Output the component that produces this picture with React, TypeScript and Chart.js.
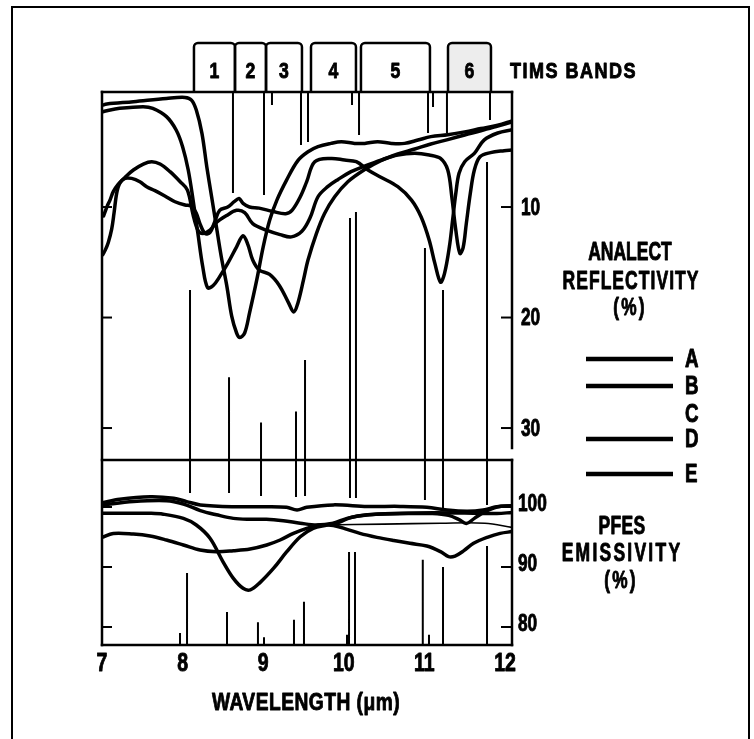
import React, { useEffect, useRef } from "react";
import { Chart, registerables } from "chart.js";

Chart.register(...registerables);

const FONT = "'Liberation Sans', Arimo, Arial, sans-serif";

type Pt = [number, number];

// axis ticks
const waveTicks = [7, 8, 9, 10, 11, 12];
const reflTicks = [10, 20, 30];
const emisTicks = [80, 90, 100];

// TIMS spectral bands (µm)
const bandNames = ["1", "2", "3", "4", "5", "6"];
const bandStart = [8.141, 8.65, 9.035, 9.593, 10.213, 11.293];
const bandEnd = [8.65, 9.035, 9.481, 10.151, 11.069, 11.826];

const legendKeys = ["A", "B", "C", "D", "E"];
const legendHasLine = [true, true, false, true, true];

// ANALECT reflectivity (%) against wavelength (µm)
const reflA: Pt[] = [
  [7.0, 0.8], [7.06, 0.68], [7.39, 0.47], [7.8, 0.17], [8.03, 0.08], [8.11, 0.32], [8.17, 1.22],
  [8.24, 3.33], [8.3, 6.35], [8.36, 9.07], [8.42, 11.8], [8.48, 14.5], [8.55, 17.2], [8.61, 19.9],
  [8.67, 21.4], [8.71, 21.8], [8.77, 21.4], [8.83, 19.6], [8.92, 16.6], [9.0, 13.6], [9.08, 11.2],
  [9.17, 9.37], [9.29, 7.56], [9.43, 5.8], [9.556, 5.0], [9.68, 4.54], [9.84, 4.24], [9.97, 4.09],
  [10.135, 4.24], [10.26, 4.24], [10.42, 4.09], [10.59, 4.24], [10.755, 4.24], [10.92, 3.94],
  [11.08, 3.63], [11.29, 3.45], [11.5, 3.2], [11.7, 2.9], [11.91, 2.6], [12.087, 2.2],
];
const reflB: Pt[] = [
  [7.0, 1.4], [7.06, 1.28], [7.22, 1.07], [7.51, 0.92], [7.63, 1.07], [7.8, 1.82], [7.92, 3.03],
  [8.0, 4.54], [8.07, 6.65], [8.13, 9.37], [8.19, 12.4], [8.25, 15.4], [8.31, 17.3], [8.38, 17.1],
  [8.46, 16.3], [8.56, 15.1], [8.67, 13.6], [8.75, 12.6], [8.81, 13.4], [8.87, 14.8], [8.95, 15.7],
  [9.08, 16.1], [9.2, 17.1], [9.31, 18.6], [9.38, 19.5], [9.43, 18.7], [9.5, 16.6], [9.556, 14.8],
  [9.66, 12.4], [9.76, 10.6], [9.887, 9.07], [10.05, 7.71], [10.26, 6.6], [10.46, 5.8], [10.67, 5.2],
  [10.88, 4.75], [11.08, 4.3], [11.29, 3.9], [11.5, 3.48], [11.7, 3.1], [11.91, 2.67], [12.087, 2.3],
];
const reflD: Pt[] = [
  [7.02, 10.8], [7.066, 9.9], [7.099, 9.37], [7.14, 8.61], [7.2, 7.95], [7.285, 7.32], [7.389, 6.65],
  [7.513, 6.11], [7.617, 5.9], [7.72, 6.11], [7.844, 6.8], [7.97, 7.71], [8.06, 8.46], [8.13, 10.7],
  [8.19, 12.1], [8.25, 12.4], [8.34, 12.1], [8.42, 11.4], [8.54, 10.8], [8.67, 10.3], [8.77, 10.5],
  [8.87, 11.5], [9.04, 12.1], [9.21, 12.5], [9.35, 12.7], [9.48, 12.2], [9.58, 11.0], [9.68, 9.07],
  [9.8, 8.16], [9.93, 7.5], [10.09, 6.8], [10.26, 6.29], [10.46, 5.75], [10.67, 5.29], [10.88, 5.14],
  [11.06, 5.29], [11.2, 5.6], [11.29, 6.65], [11.34, 9.07], [11.39, 12.1], [11.44, 14.2], [11.48, 13.7],
  [11.52, 11.5], [11.57, 8.76], [11.62, 6.65], [11.69, 5.45], [11.82, 5.08], [11.99, 4.9], [12.087, 4.84],
];
const reflE: Pt[] = [
  [7.01, 14.3], [7.04, 13.9], [7.078, 13.2], [7.12, 12.0], [7.149, 10.57], [7.182, 8.76], [7.22, 7.86],
  [7.285, 7.41], [7.368, 7.41], [7.47, 7.71], [7.554, 8.16], [7.657, 8.52], [7.78, 9.0], [7.906, 9.52],
  [8.03, 9.82], [8.11, 9.91], [8.17, 10.57], [8.22, 11.6], [8.28, 12.4], [8.34, 12.3], [8.4, 11.3],
  [8.46, 10.3], [8.56, 10.0], [8.64, 9.52], [8.7, 9.22], [8.75, 9.67], [8.83, 10.0], [8.95, 10.1],
  [9.12, 10.4], [9.28, 10.6], [9.36, 10.27], [9.46, 9.07], [9.54, 7.7], [9.64, 5.9], [9.84, 5.6],
  [10.01, 5.75], [10.155, 5.9], [10.3, 6.65], [10.46, 7.3], [10.67, 8.16], [10.84, 9.37], [10.96, 10.9],
  [11.06, 13.0], [11.13, 15.1], [11.2, 16.8], [11.25, 16.0], [11.31, 13.6], [11.35, 11.2], [11.39, 8.76],
  [11.43, 6.95], [11.5, 5.9], [11.62, 5.14], [11.74, 3.94], [11.91, 3.3], [12.087, 3.0],
];

// PFES emissivity (%) against wavelength (µm)
const emisA: Pt[] = [
  [7.0, 98.95], [7.39, 98.95], [7.6, 98.95], [7.76, 98.8], [8.01, 98.1], [8.17, 97.0], [8.34, 94.8],
  [8.5, 90.9], [8.63, 88.1], [8.75, 86.45], [8.84, 86.2], [8.96, 87.4], [9.13, 89.8], [9.29, 92.5],
  [9.46, 95.05], [9.62, 96.45], [9.79, 97.0], [9.95, 97.5], [10.1, 98.3], [10.4, 98.8], [10.8, 98.9],
  [11.1, 98.9], [11.3, 98.6], [11.43, 97.9], [11.52, 97.25], [11.62, 98.1], [11.75, 99.2], [11.9, 100.0],
  [12.087, 100.2],
];
const emisB: Pt[] = [
  [7.0, 100.3], [7.39, 100.9], [7.8, 101.05], [8.01, 100.5], [8.22, 99.4], [8.42, 98.7], [8.63, 98.1],
  [8.84, 97.95], [9.04, 97.95], [9.25, 97.7], [9.46, 97.3], [9.66, 97.0], [9.87, 97.3], [10.04, 98.1],
  [10.29, 98.7], [10.7, 98.95], [11.11, 99.05], [11.5, 99.0], [11.9, 98.9], [12.087, 99.1],
];
const emisC: Pt[] = [
  [9.75, 97.0], [10.5, 97.15], [11.2, 97.3], [11.75, 97.3], [12.087, 96.6],
];
const emisD: Pt[] = [
  [7.0, 100.7], [7.22, 101.3], [7.6, 101.7], [7.89, 101.45], [8.05, 100.9], [8.22, 100.35],
  [8.63, 100.05], [9.04, 100.05], [9.29, 99.95], [9.42, 99.5], [9.54, 99.95], [9.87, 100.35],
  [10.29, 100.1], [10.7, 100.1], [11.03, 99.95], [11.28, 99.5], [11.53, 99.3], [11.73, 99.5],
  [11.9, 100.05], [12.087, 100.2],
];
const emisE: Pt[] = [
  [7.0, 94.94], [7.14, 95.6], [7.389, 95.5], [7.596, 95.17], [7.8, 94.5], [8.01, 93.67], [8.216, 92.83],
  [8.42, 92.56], [8.63, 92.72], [8.837, 93.0], [9.044, 93.67], [9.21, 94.5], [9.375, 95.6], [9.54, 96.44],
  [9.705, 97.0], [9.87, 96.9], [10.04, 96.28], [10.2, 95.6], [10.41, 94.94], [10.62, 94.4], [10.82, 93.94],
  [11.03, 93.5], [11.2, 92.56], [11.3, 91.72], [11.38, 91.83], [11.49, 92.72], [11.61, 93.94],
  [11.78, 94.94], [11.94, 95.6], [12.087, 95.9],
];

// band-edge marker lines
// from the top of the reflectivity panel down to a reflectivity value
const markTop: Pt[] = [
  [8.625, 8.73], [9.01, 8.9], [9.109, 0.77], [9.469, 4.39], [9.556, 4.12], [10.102, 0.77],
  [10.189, 3.48], [11.045, 3.3], [11.107, 0.95], [11.28, 3.3], [11.814, 2.13],
];
// from a reflectivity value, across the panel break, down to an emissivity value
const markMid: [number, number, number][] = [
  [8.092, 17.5, 102.33], [8.576, 25.4, 102.33], [8.973, 29.5, 101.83], [9.407, 28.5, 101.67],
  [9.519, 23.85, 101.83], [10.077, 11.0, 101.5], [10.151, 10.45, 101.5], [11.007, 13.7, 101.17],
  [11.231, 17.5, 99.5], [11.777, 5.93, 100.33],
];
// from the wavelength axis up to an emissivity value
const markLow: Pt[] = [
  [7.968, 79.0], [8.055, 89.0], [8.551, 82.5], [8.935, 80.8], [9.01, 78.3], [9.382, 81.2],
  [9.506, 84.2], [10.04, 78.7], [10.065, 92.5], [10.139, 92.5], [10.98, 91.2], [11.057, 78.7],
  [11.231, 90.0], [11.777, 93.5],
];

const X_MIN = 7.0;
const X_MAX = 12.087;
const R_MIN = -0.41;
const R_MAX = 32.35;
const R_PANEL_END = 31.8;
const E_MIN = 77;
const E_MAX = 108.83;
const E_BOX_TOP = 107.83;

const toXY = (pts: Pt[]) => pts.map(([x, y]) => ({ x, y }));

const curve = (pts: Pt[], axis: string, width = 3.5) => ({
  type: "line" as const,
  data: toXY(pts),
  yAxisID: axis,
  xAxisID: "x",
  borderColor: "#000",
  borderWidth: width,
  pointRadius: 0,
  tension: 0.35,
  fill: false,
  borderJoinStyle: "round" as const,
  borderCapStyle: "round" as const,
  order: 0,
});

const segments = (rows: [number, number, number][], axis: string) => ({
  type: "line" as const,
  data: rows.flatMap(([x, a, b]) => [
    { x, y: a },
    { x, y: b },
    { x, y: null as any },
  ]),
  yAxisID: axis,
  xAxisID: "x",
  borderColor: "#000",
  borderWidth: 2,
  pointRadius: 0,
  tension: 0,
  spanGaps: false,
  fill: false,
  order: 5,
});

// condensed heavy lettering: the face is squeezed horizontally by sx
function drawText(
  ctx: CanvasRenderingContext2D,
  text: string,
  x: number,
  y: number,
  size: number,
  align: CanvasTextAlign = "center",
  sx = 0.72,
  spacing = 0
) {
  ctx.save();
  ctx.font = `bold ${size}px ${FONT}`;
  (ctx as any).letterSpacing = `${spacing}px`;
  ctx.textAlign = align;
  ctx.textBaseline = "middle";
  ctx.translate(x, y);
  ctx.scale(sx, 1);
  ctx.lineWidth = 0.9;
  ctx.lineJoin = "round";
  ctx.fillText(text, 0, 0);
  ctx.strokeText(text, 0, 0);
  ctx.restore();
}

const decorPlugin = {
  id: "decor",
  afterDraw(chart: Chart) {
    const { ctx, chartArea: a } = chart;
    const sx = chart.scales.x;
    const sR = chart.scales.yR;
    const sE = chart.scales.yE;
    const seg = (x0: number, y0: number, x1: number, y1: number) => {
      ctx.beginPath();
      ctx.moveTo(x0, y0);
      ctx.lineTo(x1, y1);
      ctx.stroke();
    };

    ctx.save();
    ctx.strokeStyle = "#000";
    ctx.fillStyle = "#000";
    ctx.lineCap = "square";

    // page frame
    ctx.lineWidth = 2;
    ctx.strokeRect(12, 7, 737, 760);

    // panel frames
    ctx.lineWidth = 2.5;
    const rEnd = sR.getPixelForValue(R_PANEL_END);
    const eTop = sE.getPixelForValue(E_BOX_TOP);
    seg(a.left, a.top, a.left, a.bottom);
    seg(a.left, a.top, a.right, a.top);
    seg(a.right, a.top, a.right, rEnd);
    seg(a.left, eTop, a.right, eTop);
    seg(a.right, eTop, a.right, a.bottom);
    seg(a.left, a.bottom, a.right, a.bottom);

    // inward tick marks on both sides, with value labels on the right
    ctx.lineWidth = 2;
    ctx.lineCap = "butt";
    const tick = (py: number) => {
      seg(a.left, py, a.left + 10, py);
      seg(a.right - 11, py, a.right, py);
    };
    reflTicks.forEach((v) => {
      const py = sR.getPixelForValue(v);
      tick(py);
      drawText(ctx, String(v), a.right + 9, py + 1, 24, "left", 0.72);
    });
    emisTicks.forEach((v) => {
      const py = sE.getPixelForValue(v);
      tick(py);
      drawText(ctx, String(v), a.right + 6, py - 3, 24, "left", 0.72);
    });

    // wavelength labels and axis title
    waveTicks.forEach((v) => {
      drawText(ctx, String(v), sx.getPixelForValue(v), a.bottom + 19, 25, "center", 0.78);
    });
    drawText(ctx, "WAVELENGTH (μm)", (a.left + a.right) / 2 - 1, a.bottom + 58, 24, "center", 0.8, 0.6);

    // TIMS band boxes
    const boxTop = a.top - 49;
    const rad = 4;
    ctx.lineWidth = 2.5;
    bandNames.forEach((name, i) => {
      const x0 = sx.getPixelForValue(bandStart[i]);
      const x1 = sx.getPixelForValue(bandEnd[i]);
      ctx.beginPath();
      ctx.moveTo(x0, a.top);
      ctx.lineTo(x0, boxTop + rad);
      ctx.arcTo(x0, boxTop, x0 + rad, boxTop, rad);
      ctx.lineTo(x1 - rad, boxTop);
      ctx.arcTo(x1, boxTop, x1, boxTop + rad, rad);
      ctx.lineTo(x1, a.top);
      if (i === 5) {
        ctx.save();
        ctx.fillStyle = "rgba(0,0,0,0.07)";
        ctx.fill();
        ctx.restore();
      }
      ctx.stroke();
      drawText(ctx, name, (x0 + x1) / 2, a.top - 20, 22, "center", 0.8);
    });
    drawText(ctx, "TIMS BANDS", 510, a.top - 20, 22, "left", 0.82, 1.8);

    // right-hand captions
    drawText(ctx, "ANALECT", 630, 253, 25, "center", 0.7, 0);
    drawText(ctx, "REFLECTIVITY", 631, 282, 25, "center", 0.7, 1.5);
    drawText(ctx, "(%)", 630, 309, 23, "center", 0.75, 3);
    drawText(ctx, "PFES", 622, 527, 25, "center", 0.7, 0.5);
    drawText(ctx, "EMISSIVITY", 622, 554, 25, "center", 0.7, 3.2);
    drawText(ctx, "(%)", 621, 582, 23, "center", 0.75, 3);

    // sample key
    const keyY = [359, 386, 414, 439, 474];
    ctx.lineWidth = 4.5;
    ctx.lineCap = "butt";
    legendKeys.forEach((k, i) => {
      if (legendHasLine[i]) seg(586, keyY[i], 673, keyY[i]);
      drawText(ctx, k, 685, keyY[i] + 1, 25, "left", 0.75);
    });

    ctx.restore();
  },
};

export default function App() {
  const ref = useRef<HTMLCanvasElement>(null);

  useEffect(() => {
    const hiddenTicks = { display: false };
    const chart = new Chart(ref.current!, {
      type: "line",
      data: {
        datasets: [
          curve(reflA, "yR"),
          curve(reflB, "yR"),
          curve(reflD, "yR"),
          curve(reflE, "yR"),
          curve(emisA, "yE"),
          curve(emisB, "yE"),
          curve(emisC, "yE", 1.6),
          curve(emisD, "yE"),
          curve(emisE, "yE"),
          segments(markTop.map(([x, r]) => [x, R_MIN, r]), "yR"),
          segments(markMid.map(([x, r]) => [x, r, R_MAX]), "yR"),
          segments(markMid.map(([x, , e]) => [x, E_MAX, e]), "yE"),
          segments(markLow.map(([x, e]) => [x, E_MIN, e]), "yE"),
        ] as any,
      },
      options: {
        animation: false,
        responsive: true,
        maintainAspectRatio: false,
        layout: { padding: { left: 102, top: 92, right: 182, bottom: 22 } },
        plugins: { legend: { display: false }, tooltip: { enabled: false } },
        scales: {
          x: {
            type: "linear",
            min: X_MIN,
            max: X_MAX,
            afterBuildTicks: (s: any) => {
              s.ticks = waveTicks.map((value) => ({ value }));
            },
            afterFit: (s: any) => {
              s.height = 72;
            },
            grid: { display: false },
            border: { display: false },
            ticks: hiddenTicks,
          },
          yR: {
            type: "linear",
            position: "right",
            stack: "spectra",
            stackWeight: 362,
            reverse: true,
            min: R_MIN,
            max: R_MAX,
            afterBuildTicks: (s: any) => {
              s.ticks = reflTicks.map((value) => ({ value }));
            },
            afterFit: (s: any) => {
              s.width = 60;
            },
            grid: { display: false },
            border: { display: false },
            ticks: hiddenTicks,
          },
          yE: {
            type: "linear",
            position: "right",
            stack: "spectra",
            stackWeight: 191,
            min: E_MIN,
            max: E_MAX,
            afterBuildTicks: (s: any) => {
              s.ticks = emisTicks.map((value) => ({ value }));
            },
            afterFit: (s: any) => {
              s.width = 60;
            },
            grid: { display: false },
            border: { display: false },
            ticks: hiddenTicks,
          },
        },
      } as any,
      plugins: [decorPlugin],
    });
    return () => chart.destroy();
  }, []);

  return (
    <div
      style={{
        position: "fixed",
        left: 0,
        top: 0,
        width: 754,
        height: 739,
        background: "#fff",
      }}
    >
      <canvas ref={ref} />
    </div>
  );
}
